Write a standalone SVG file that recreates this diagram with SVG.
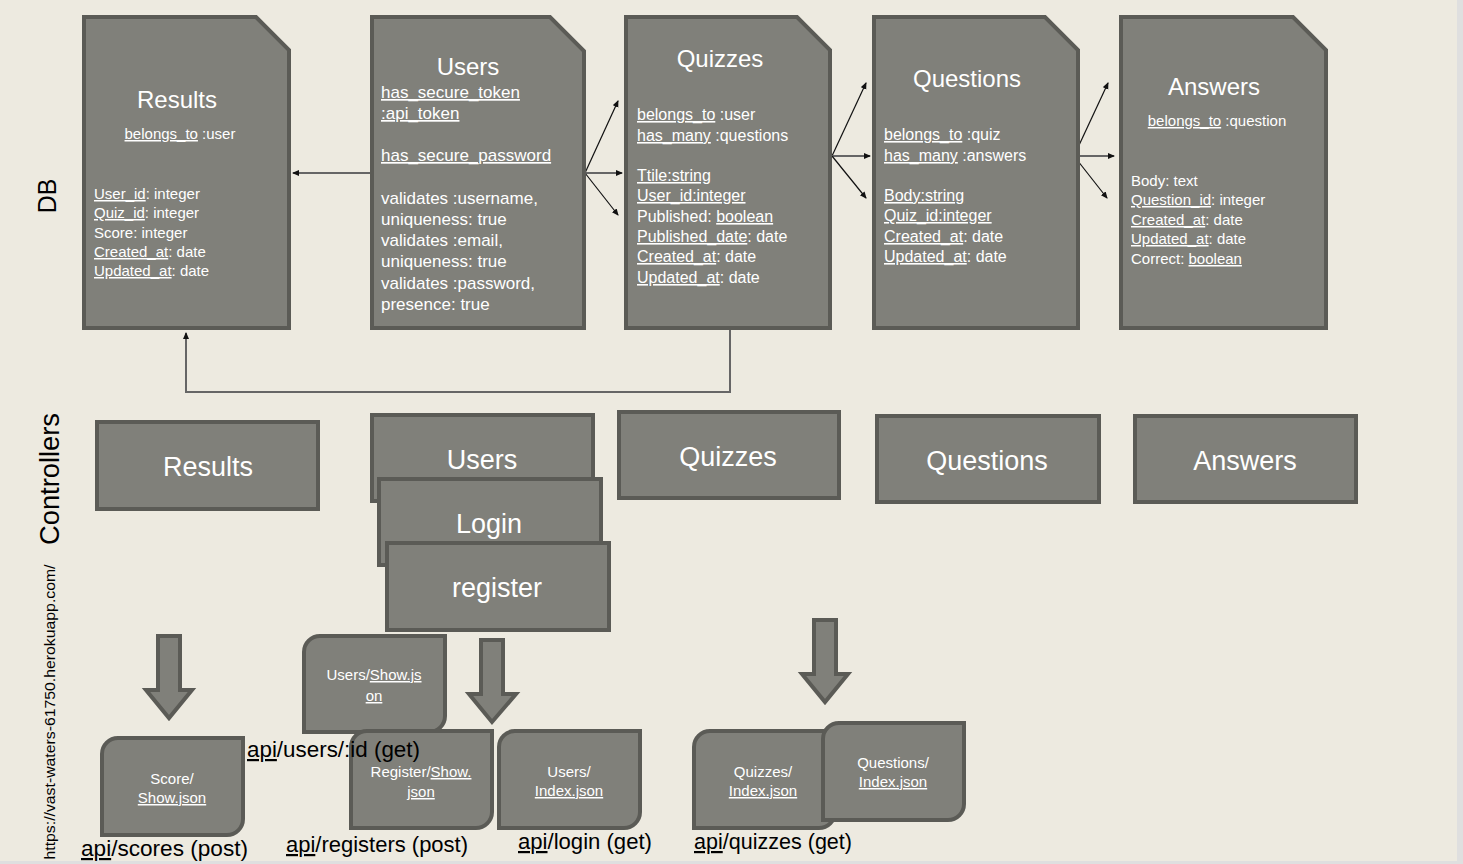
<svg xmlns="http://www.w3.org/2000/svg" width="1463" height="864" viewBox="0 0 1463 864">
<style>
.box{fill:#80807a;stroke:#5b5b56;stroke-width:4}
.t{font-family:"Liberation Sans",Arial,sans-serif;fill:#ffffff}
.title{font-size:24px;text-anchor:middle}
.attr{font-size:15px}
.uattr{font-size:17px}
.ctl{font-size:27px;text-anchor:middle}
.small{font-size:15px;text-anchor:middle}
.lbl{font-family:"Liberation Sans",Arial,sans-serif;fill:#000000;font-size:22px}
.u{text-decoration:underline wavy #d42020}
.con{fill:none;stroke:#111;stroke-width:1.2}
.cong{fill:none;stroke:#666;stroke-width:2}
.barrow{fill:#80807a;stroke:#5b5b56;stroke-width:4;stroke-linejoin:miter}
</style>
<defs>
<marker id="ah" markerWidth="8" markerHeight="8" refX="6" refY="3" orient="auto" markerUnits="userSpaceOnUse">
<path d="M0,0 L7,3 L0,6 Z" fill="#111"/>
</marker>
</defs>
<rect x="0" y="0" width="1463" height="864" fill="#edeae0"/>
<rect x="1457" y="0" width="6" height="864" fill="#dfdfdf"/>
<rect x="0" y="861" width="1463" height="3" fill="#dfdfdf"/>

<g id="side-labels">
<text transform="translate(56,196) rotate(-90)" font-family="Liberation Sans,Arial,sans-serif" font-size="25" text-anchor="middle" fill="#000">DB</text>
<text transform="translate(59,479) rotate(-90)" font-family="Liberation Sans,Arial,sans-serif" font-size="27" text-anchor="middle" textLength="132" lengthAdjust="spacingAndGlyphs" fill="#000">Controllers</text>
<text transform="translate(55,712) rotate(-90)" font-family="Liberation Sans,Arial,sans-serif" font-size="14" text-anchor="middle" textLength="295" lengthAdjust="spacingAndGlyphs" fill="#000">https://vast-waters-61750.herokuapp.com/</text>
</g>

<g id="connectors">
<line class="cong" x1="372" y1="173" x2="293" y2="173" marker-end="url(#ah)"/>
<line class="con" x1="585" y1="173" x2="618" y2="101" marker-end="url(#ah)"/>
<line class="cong" x1="585" y1="173" x2="622" y2="173" marker-end="url(#ah)"/>
<line class="con" x1="585" y1="173" x2="618" y2="215" marker-end="url(#ah)"/>
<line class="con" x1="832" y1="156" x2="866" y2="83" marker-end="url(#ah)"/>
<line class="cong" x1="832" y1="156" x2="870" y2="156" marker-end="url(#ah)"/>
<line class="con" x1="832" y1="156" x2="866" y2="198" marker-end="url(#ah)"/>
<line class="con" x1="1074" y1="156" x2="1108" y2="83" marker-end="url(#ah)"/>
<line class="cong" x1="1074" y1="156" x2="1114" y2="156" marker-end="url(#ah)"/>
<line class="con" x1="1074" y1="156" x2="1107" y2="198" marker-end="url(#ah)"/>
<polyline class="cong" points="730,330 730,392 186,392 186,333" marker-end="url(#ah)"/>
</g>

<g id="db-results">
<path class="box" d="M84,17 H256 L289,50 V328 H84 Z"/>
<text class="t title" x="177" y="108">Results</text>
<text class="t attr" x="180" y="139" text-anchor="middle"><tspan class="u">belongs_to</tspan> :user</text>
<text class="t attr" x="94" y="199"><tspan class="u">User_id</tspan>: integer</text>
<text class="t attr" x="94" y="218"><tspan class="u">Quiz_id</tspan>: integer</text>
<text class="t attr" x="94" y="238">Score: integer</text>
<text class="t attr" x="94" y="257"><tspan class="u">Created_at</tspan>: date</text>
<text class="t attr" x="94" y="276"><tspan class="u">Updated_at</tspan>: date</text>
</g>

<g id="db-users">
<path class="box" d="M372,17 H550 L584,51 V328 H372 Z"/>
<text class="t title" x="468" y="75">Users</text>
<text class="t uattr" x="381" y="98"><tspan class="u">has_secure_token</tspan></text>
<text class="t uattr" x="381" y="119"><tspan class="u">:api_token</tspan></text>
<text class="t uattr" x="381" y="161"><tspan class="u">has_secure_password</tspan></text>
<text class="t uattr" x="381" y="204">validates :username,</text>
<text class="t uattr" x="381" y="225">uniqueness: true</text>
<text class="t uattr" x="381" y="246">validates :email,</text>
<text class="t uattr" x="381" y="267">uniqueness: true</text>
<text class="t uattr" x="381" y="289">validates :password,</text>
<text class="t uattr" x="381" y="310">presence: true</text>
</g>

<g id="db-quizzes">
<path class="box" d="M626,17 H797 L830,50 V328 H626 Z"/>
<text class="t title" x="720" y="67">Quizzes</text>
<text class="t uattr" x="637" y="120" style="font-size:16px"><tspan class="u">belongs_to</tspan> :user</text>
<text class="t uattr" x="637" y="141" style="font-size:16px"><tspan class="u">has_many</tspan> :questions</text>
<text class="t uattr" x="637" y="181" style="font-size:16px"><tspan class="u">Ttile:string</tspan></text>
<text class="t uattr" x="637" y="201" style="font-size:16px"><tspan class="u">User_id:integer</tspan></text>
<text class="t uattr" x="637" y="222" style="font-size:16px">Published: <tspan class="u">boolean</tspan></text>
<text class="t uattr" x="637" y="242" style="font-size:16px"><tspan class="u">Published_date</tspan>: date</text>
<text class="t uattr" x="637" y="262" style="font-size:16px"><tspan class="u">Created_at</tspan>: date</text>
<text class="t uattr" x="637" y="283" style="font-size:16px"><tspan class="u">Updated_at</tspan>: date</text>
</g>

<g id="db-questions">
<path class="box" d="M874,17 H1045 L1078,50 V328 H874 Z"/>
<text class="t title" x="967" y="87">Questions</text>
<text class="t uattr" x="884" y="140" style="font-size:16px"><tspan class="u">belongs_to</tspan> :quiz</text>
<text class="t uattr" x="884" y="161" style="font-size:16px"><tspan class="u">has_many</tspan> :answers</text>
<text class="t uattr" x="884" y="201" style="font-size:16px"><tspan class="u">Body:string</tspan></text>
<text class="t uattr" x="884" y="221" style="font-size:16px"><tspan class="u">Quiz_id:integer</tspan></text>
<text class="t uattr" x="884" y="242" style="font-size:16px"><tspan class="u">Created_at</tspan>: date</text>
<text class="t uattr" x="884" y="262" style="font-size:16px"><tspan class="u">Updated_at</tspan>: date</text>
</g>

<g id="db-answers">
<path class="box" d="M1121,17 H1293 L1326,50 V328 H1121 Z"/>
<text class="t title" x="1214" y="95">Answers</text>
<text class="t attr" x="1217" y="126" text-anchor="middle"><tspan class="u">belongs_to</tspan> :question</text>
<text class="t attr" x="1131" y="186">Body: text</text>
<text class="t attr" x="1131" y="205"><tspan class="u">Question_id</tspan>: integer</text>
<text class="t attr" x="1131" y="225"><tspan class="u">Created_at</tspan>: date</text>
<text class="t attr" x="1131" y="244"><tspan class="u">Updated_at</tspan>: date</text>
<text class="t attr" x="1131" y="264">Correct: <tspan class="u">boolean</tspan></text>
</g>

<g id="ctl-results">
<rect class="box" x="97" y="422" width="221" height="87"/>
<text class="t ctl" x="208" y="476">Results</text>
</g>
<g id="ctl-users">
<rect class="box" x="372" y="415" width="221" height="86"/>
<text class="t ctl" x="482" y="469">Users</text>
</g>
<g id="ctl-login">
<rect class="box" x="379" y="479" width="222" height="86"/>
<text class="t ctl" x="489" y="533">Login</text>
</g>
<g id="ctl-register">
<rect class="box" x="387" y="543" width="222" height="87"/>
<text class="t ctl" x="497" y="597">register</text>
</g>
<g id="ctl-quizzes">
<rect class="box" x="619" y="412" width="220" height="86"/>
<text class="t ctl" x="728" y="466">Quizzes</text>
</g>
<g id="ctl-questions">
<rect class="box" x="877" y="416" width="222" height="86"/>
<text class="t ctl" x="987" y="470">Questions</text>
</g>
<g id="ctl-answers">
<rect class="box" x="1135" y="416" width="221" height="86"/>
<text class="t ctl" x="1245" y="470">Answers</text>
</g>

<g id="arrow-results">
<path class="barrow" d="M158,636 H180 V690 H192 L169,718 L146,690 H158 Z"/>
</g>
<g id="arrow-users">
<path class="barrow" d="M481,640 H503 V694 H516 L492,722 L469,694 H481 Z"/>
</g>
<g id="arrow-quizzes">
<path class="barrow" d="M814,620 H836 V674 H848 L825,702 L802,674 H814 Z"/>
</g>

<g id="view-users-show">
<path class="box" d="M320,636 H445 V716 A16,16 0 0 1 429,732 H304 V652 A16,16 0 0 1 320,636 Z"/>
<text class="t small" x="374" y="680">Users/<tspan class="u">Show.js</tspan></text>
<text class="t small" x="374" y="701"><tspan class="u">on</tspan></text>
</g>
<g id="view-score-show">
<path class="box" d="M118,738 H243 V819 A16,16 0 0 1 227,835 H102 V754 A16,16 0 0 1 118,738 Z"/>
<text class="t small" x="172" y="784">Score/</text>
<text class="t small" x="172" y="803"><tspan class="u">Show.json</tspan></text>
</g>
<g id="view-register-show">
<path class="box" d="M367,731 H492 V812 A16,16 0 0 1 476,828 H351 V747 A16,16 0 0 1 367,731 Z"/>
<text class="t small" x="421" y="777">Register/<tspan class="u">Show.</tspan></text>
<text class="t small" x="421" y="797"><tspan class="u">json</tspan></text>
</g>
<g id="view-users-index">
<path class="box" d="M515,731 H640 V812 A16,16 0 0 1 624,828 H499 V747 A16,16 0 0 1 515,731 Z"/>
<text class="t small" x="569" y="777">Users/</text>
<text class="t small" x="569" y="796"><tspan class="u">Index.json</tspan></text>
</g>
<g id="view-quizzes-index">
<path class="box" d="M710,731 H835 V812 A16,16 0 0 1 819,828 H694 V747 A16,16 0 0 1 710,731 Z"/>
<text class="t small" x="763" y="777">Quizzes/</text>
<text class="t small" x="763" y="796"><tspan class="u">Index.json</tspan></text>
</g>
<g id="view-questions-index">
<path class="box" d="M839,723 H964 V804 A16,16 0 0 1 948,820 H823 V739 A16,16 0 0 1 839,723 Z"/>
<text class="t small" x="893" y="768">Questions/</text>
<text class="t small" x="893" y="787"><tspan class="u">Index.json</tspan></text>
</g>

<g id="route-labels">
<text class="lbl" x="247" y="757" textLength="173" lengthAdjust="spacingAndGlyphs"><tspan class="u">api</tspan>/users/:id (get)</text>
<text class="lbl" x="81" y="856" textLength="167" lengthAdjust="spacingAndGlyphs"><tspan class="u">api</tspan>/scores  (post)</text>
<text class="lbl" x="286" y="852" textLength="182" lengthAdjust="spacingAndGlyphs"><tspan class="u">api</tspan>/registers (post)</text>
<text class="lbl" x="518" y="849" textLength="134" lengthAdjust="spacingAndGlyphs"><tspan class="u">api</tspan>/login (get)</text>
<text class="lbl" x="694" y="849" textLength="158" lengthAdjust="spacingAndGlyphs"><tspan class="u">api</tspan>/quizzes (get)</text>
</g>
</svg>
